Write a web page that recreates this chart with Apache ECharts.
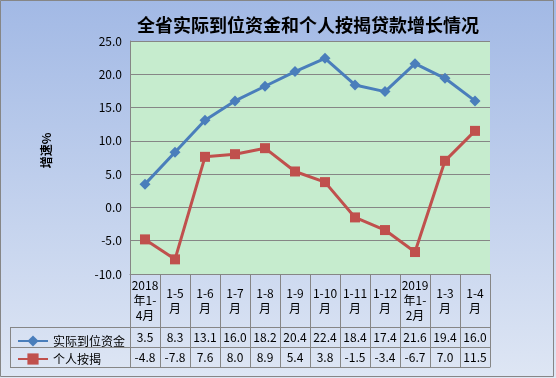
<!DOCTYPE html>
<html>
<head>
<meta charset="utf-8">
<script src="https://cdn.jsdelivr.net/npm/echarts@6/dist/echarts.min.js"></script>
<style>
html,body{margin:0;padding:0;background:#fff;}
#c{width:556px;height:378px;}
</style>
</head>
<body>
<div id="c"></div>
<script>
var categories = ['2018\n年1-\n4月','1-5\n月','1-6\n月','1-7\n月','1-8\n月','1-9\n月','1-10\n月','1-11\n月','1-12\n月','2019\n年1-\n2月','1-3\n月','1-4\n月'];
var seriesNames = ['实际到位资金','个人按揭'];
var fundValues = [3.5, 8.3, 13.1, 16.0, 18.2, 20.4, 22.4, 18.4, 17.4, 21.6, 19.4, 16.0];
var mortgageValues = [-4.8, -7.8, 7.6, 8.0, 8.9, 5.4, 3.8, -1.5, -3.4, -6.7, 7.0, 11.5];
var yTicks = {min: -10, max: 25, interval: 5};
var titleText = '全省实际到位资金和个人按揭贷款增长情况';
var yName = '增速%';

var W = 556, H = 378;
var G = {left: 130, right: 66, top: 41, bottom: 104};
var headerH = 53, rowH = 20;
var gridBottomY = H - G.bottom;
var legendLeft = 10;
var gray = '#868686';
var FONT = '"Noto Sans CJK SC", sans-serif';

var chart = echarts.init(document.getElementById('c'), null, {renderer: 'canvas'});

function fmt(v){ return v.toFixed(1); }

function tableAxis(offset, tickLen, formatter, showLabel){
  return {
    type: 'category', data: categories, position: 'bottom', offset: offset,
    boundaryGap: true,
    axisLine: {show: true, onZero: false, lineStyle: {color: gray, width: 1}},
    axisTick: {show: tickLen > 0, inside: false, length: tickLen, interval: 0, lineStyle: {color: gray, width: 1}},
    axisLabel: {show: showLabel, interval: 0, margin: tickLen/2, verticalAlign: 'middle',
      color: '#000', fontSize: 12, fontFamily: FONT, lineHeight: 15, formatter: formatter},
    splitLine: {show: false}
  };
}

var y1 = gridBottomY + headerH, y2 = y1 + rowH, y3 = y2 + rowH;
var lineStyleG = {stroke: gray, lineWidth: 1};

var option = {
  backgroundColor: new echarts.graphic.LinearGradient(0, 0, 0, 1, [
    {offset: 0, color: '#a2b9e5'}, {offset: 1, color: '#dee6f4'}
  ]),
  animation: false,
  title: {
    text: titleText, left: 132, top: 11,
    textStyle: {fontSize: 18, fontWeight: 'bold', color: '#000', fontFamily: FONT}
  },
  legend: {
    data: seriesNames, orient: 'vertical', left: 12, top: y1 + 3,
    itemWidth: 30, itemHeight: 14, itemGap: 6,
    textStyle: {fontSize: 12, color: '#000', fontFamily: FONT}
  },
  grid: {left: G.left, right: G.right, top: G.top, bottom: G.bottom,
    show: true, backgroundColor: '#c6ecce', borderWidth: 0, borderColor: 'transparent'},
  xAxis: [
    tableAxis(0, headerH, function(v){ return v; }, true),
    tableAxis(headerH, rowH, function(v, i){ return fmt(fundValues[i]); }, true),
    tableAxis(headerH + rowH, rowH, function(v, i){ return fmt(mortgageValues[i]); }, true),
    tableAxis(headerH + 2*rowH, 0, function(){ return ''; }, false)
  ],
  yAxis: {
    type: 'value', min: yTicks.min, max: yTicks.max, interval: yTicks.interval,
    name: yName, nameLocation: 'middle', nameGap: 78, nameRotate: 90,
    nameTextStyle: {fontSize: 12, fontWeight: 'bold', color: '#000', fontFamily: FONT, padding: [0,0,0,14]},
    axisLine: {show: true, onZero: false, lineStyle: {color: gray, width: 1}},
    axisTick: {show: false},
    axisLabel: {formatter: function(v){ return fmt(v); }, margin: 8, color: '#000', fontSize: 12, fontFamily: FONT},
    splitLine: {show: true, lineStyle: {color: gray, width: 1}}
  },
  series: [
    {name: seriesNames[0], type: 'line', data: fundValues, xAxisIndex: 0,
      symbol: 'diamond', symbolSize: 11,
      lineStyle: {color: '#4a7ebb', width: 3}, itemStyle: {color: '#4a7ebb'}},
    {name: seriesNames[1], type: 'line', data: mortgageValues, xAxisIndex: 0,
      symbol: 'rect', symbolSize: 10,
      lineStyle: {color: '#c0504d', width: 3}, itemStyle: {color: '#c0504d'}}
  ],
  graphic: [
    {type: 'line', shape: {x1: legendLeft, y1: y1 + 0.5, x2: G.left, y2: y1 + 0.5}, style: lineStyleG, silent: true},
    {type: 'line', shape: {x1: legendLeft, y1: y2 + 0.5, x2: G.left, y2: y2 + 0.5}, style: lineStyleG, silent: true},
    {type: 'line', shape: {x1: legendLeft, y1: y3 + 0.5, x2: G.left, y2: y3 + 0.5}, style: lineStyleG, silent: true},
    {type: 'line', shape: {x1: legendLeft + 0.5, y1: y1, x2: legendLeft + 0.5, y2: y3}, style: lineStyleG, silent: true},
    {type: 'rect', shape: {x: 0.5, y: 0.5, width: W - 3, height: H - 2}, style: {fill: 'none', stroke: gray, lineWidth: 1}, silent: true}
  ]
};
chart.setOption(option);
</script>
</body>
</html>
